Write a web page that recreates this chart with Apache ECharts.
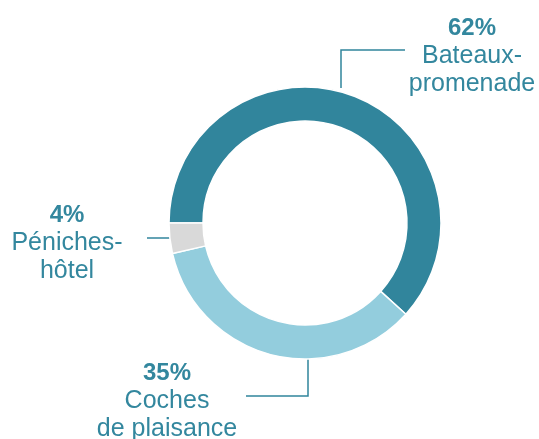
<!DOCTYPE html>
<html><head><meta charset="utf-8">
<script src="https://cdn.jsdelivr.net/npm/echarts@6/dist/echarts.min.js"></script>
<style>html,body{margin:0;padding:0;background:#fff}#c{width:539px;height:439px}</style>
</head><body><div id="c"></div>
<script>
var categories = ["Bateaux-\npromenade", "Coches\nde plaisance", "Péniches-\nhôtel"];
var values = [61.7, 34.7, 3.6];
var percentLabels = ["62%", "35%", "4%"];
var colors = ["#31859C", "#93CDDD", "#D9D9D9"];

var labelPos = [
  {x: 472, y: 56, line: [[341, 88], [341, 50], [405, 50]]},
  {x: 167, y: 401, line: [[308, 358], [308, 396], [246, 396]]},
  {x: 67, y: 243, line: [[170, 238], [160, 238], [147, 238]]}
];

var chart = echarts.init(document.getElementById('c'));
chart.setOption({
  animation: false,
  series: [{
    type: 'pie',
    center: [305, 223],
    radius: [102, 136],
    startAngle: 180,
    clockwise: true,
    avoidLabelOverlap: false,
    itemStyle: {borderColor: '#fff', borderWidth: 1.5},
    label: {
      show: true,
      formatter: function (p) {
        return '{p|' + percentLabels[p.dataIndex] + '}\n' +
          p.name.split('\n').map(function (s) { return '{n|' + s + '}'; }).join('\n');
      },
      align: 'center',
      rich: {
        p: {fontFamily: 'Liberation Sans, Arial', fontWeight: 'bold', fontSize: 24, lineHeight: 28, color: '#33879E', align: 'center'},
        n: {fontFamily: 'Liberation Sans, Arial', fontSize: 25, lineHeight: 28, color: '#33879E', align: 'center'}
      }
    },
    labelLine: {show: true, lineStyle: {color: '#31859C', width: 1.5}},
    labelLayout: function (params) {
      var lp = labelPos[params.dataIndex];
      return {x: lp.x, y: lp.y, align: 'center', verticalAlign: 'middle', labelLinePoints: lp.line};
    },
    data: categories.map(function (c, i) {
      return {name: c, value: values[i], itemStyle: {color: colors[i]}};
    })
  }]
});
</script></body></html>
